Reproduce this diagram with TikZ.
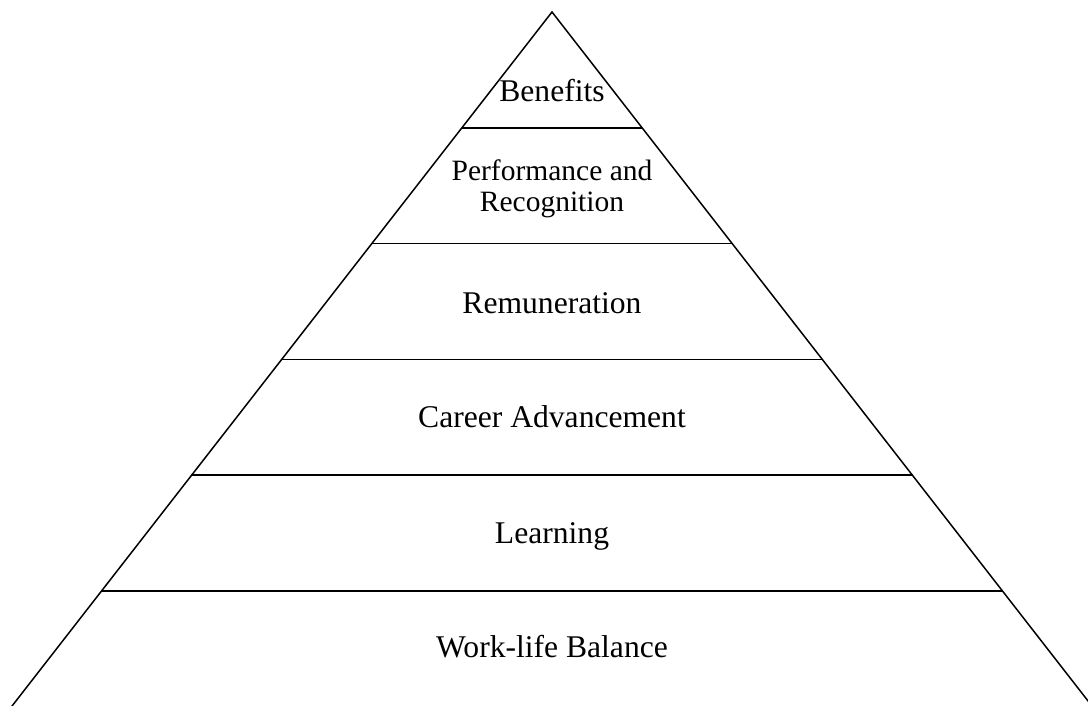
\documentclass[tikz,border=0pt]{standalone}
\usepackage{fontspec}
\setmainfont{Liberation Serif}
\begin{document}
\begin{tikzpicture}[x=1pt,y=1pt,line width=1.5pt,
  tier/.style={anchor=base,font=\fontsize{31.6}{36}\selectfont},
  tiertwo/.style={align=center,font=\fontsize{29.5}{31}\selectfont}]
\useasboundingbox (0,0) rectangle (1088,706);

% outline of the pyramid
\coordinate (apex)  at (552,694);
\coordinate (left)  at (10.5,-2);
\coordinate (right) at (1093.5,-2);
\draw (left) -- (apex) -- (right);

% layer borders
\draw (461.8,578.2) --  (642.2,578.2);
\draw (371.6,462.4) --  (732.4,462.4);
\draw (281.4,346.6) --  (822.6,346.6);
\draw (191.2,230.8) --  (912.8,230.8);
\draw (101.0,115.0) --  (1003.0,115.0);

% layer texts
\node[tier]     (benefits) at (552,604.3) {Benefits};
\node[tiertwo]  (perf)     at (552,517)   {Performance and\\Recognition};
\node[tier]     (remun)    at (552,392.7) {Remuneration};
\node[tier]     (career)   at (552,278)   {Career Advancement};
\node[tier]     (learn)    at (552,162.7) {Learning};
\node[tier]     (balance)  at (552,48)    {Work-life Balance};
\end{tikzpicture}
\end{document}
